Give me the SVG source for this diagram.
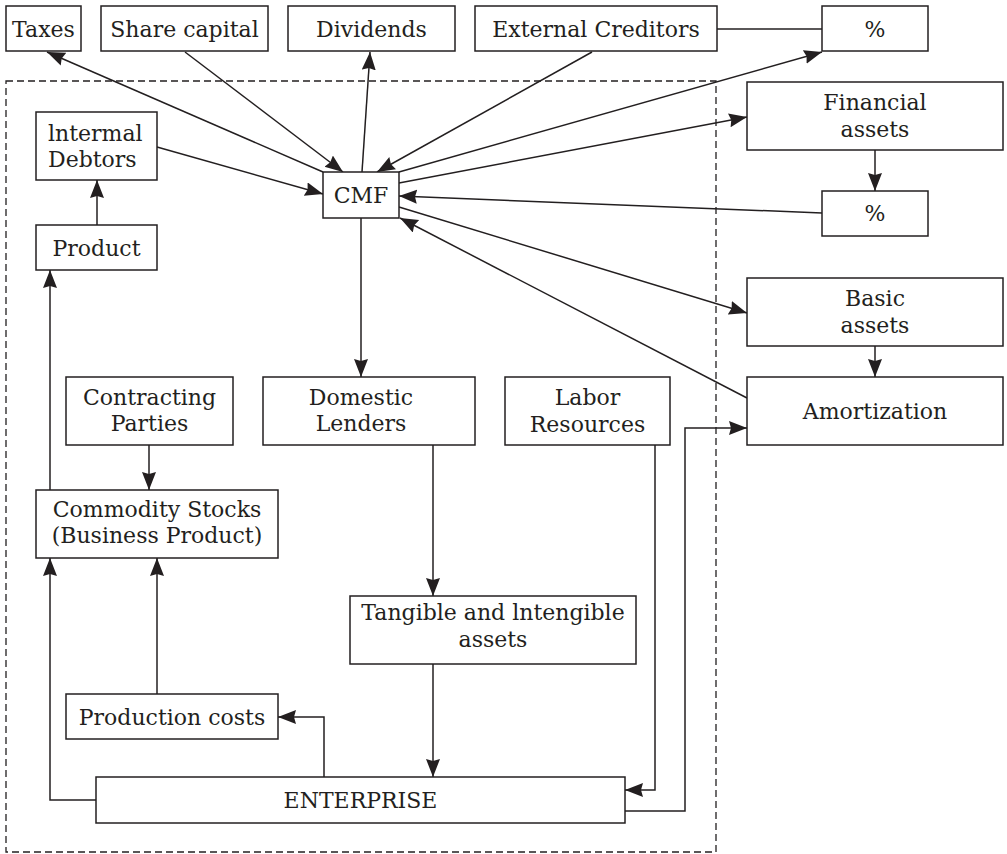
<svg xmlns="http://www.w3.org/2000/svg" width="1007" height="854" viewBox="0 0 1007 854">
<defs>
<marker id="ah" markerUnits="userSpaceOnUse" markerWidth="20" markerHeight="16" refX="18" refY="7" orient="auto">
<path d="M0,0 L18,7 L0,14 L2,7 z" fill="#231f20"/>
</marker>
<style>
.b{fill:#fff;stroke:#231f20;stroke-width:1.5}
.t{font-family:"DejaVu Serif","Liberation Serif",serif;font-size:22px;fill:#231f20;text-anchor:middle}
.c line,.c polyline{stroke:#231f20;stroke-width:1.5;fill:none}
.a{marker-end:url(#ah)}
</style>
</defs>
<rect width="1007" height="854" fill="#fff"/>
<rect id="boundary" x="6" y="81" width="710" height="771" fill="none" stroke="#231f20" stroke-width="1.3" stroke-dasharray="7 4"/>
<g class="c" id="connectors">
<line class="a" x1="323" y1="172" x2="47" y2="52"/>
<line class="a" x1="185" y1="52" x2="343" y2="172"/>
<line class="a" x1="362" y1="172" x2="370" y2="52"/>
<line class="a" x1="592" y1="52" x2="377" y2="172"/>
<line x1="717" y1="29" x2="822" y2="29"/>
<line class="a" x1="399" y1="172" x2="822" y2="52"/>
<line class="a" x1="399" y1="183" x2="747" y2="117"/>
<line class="a" x1="822" y1="213" x2="399" y2="196"/>
<line class="a" x1="399" y1="207" x2="747" y2="313"/>
<line class="a" x1="747" y1="398" x2="400" y2="218"/>
<line class="a" x1="361" y1="218" x2="361" y2="377"/>
<line class="a" x1="875" y1="150" x2="875" y2="191"/>
<line class="a" x1="875" y1="346" x2="875" y2="377"/>
<line class="a" x1="157" y1="147" x2="323" y2="194"/>
<line class="a" x1="97" y1="225" x2="97" y2="180"/>
<line class="a" x1="50" y1="490" x2="50" y2="270"/>
<line class="a" x1="149" y1="445" x2="149" y2="490"/>
<line class="a" x1="433" y1="445" x2="433" y2="596"/>
<line class="a" x1="433" y1="664" x2="433" y2="777"/>
<polyline class="a" points="96,800 50,800 50,558"/>
<line class="a" x1="157" y1="694" x2="157" y2="558"/>
<polyline class="a" points="324,777 324,717 278,717"/>
<polyline class="a" points="655,445 655,790 625,790"/>
<polyline class="a" points="625,811 685,811 685,428 747,428"/>
</g>
<g id="taxes"><rect class="b" x="6" y="6" width="75" height="45"/><text class="t" x="43.5" y="36.5">Taxes</text></g>
<g id="share-capital"><rect class="b" x="101" y="6" width="167" height="45"/><text class="t" x="184.5" y="36.5">Share capital</text></g>
<g id="dividends"><rect class="b" x="288" y="6" width="167" height="45"/><text class="t" x="371.5" y="36.5">Dividends</text></g>
<g id="external-creditors"><rect class="b" x="475" y="6" width="242" height="45"/><text class="t" x="596" y="36.5">External Creditors</text></g>
<g id="pct-top"><rect class="b" x="822" y="6" width="106" height="45"/><text class="t" x="875" y="36.5">%</text></g>
<g id="financial-assets"><rect class="b" x="747" y="82" width="256" height="68"/><text class="t" x="875" y="110">Financial</text><text class="t" x="875" y="137">assets</text></g>
<g id="pct-mid"><rect class="b" x="822" y="191" width="106" height="45"/><text class="t" x="875" y="221">%</text></g>
<g id="basic-assets"><rect class="b" x="747" y="278" width="256" height="68"/><text class="t" x="875" y="306">Basic</text><text class="t" x="875" y="333">assets</text></g>
<g id="amortization"><rect class="b" x="747" y="377" width="256" height="68"/><text class="t" x="875" y="418.5">Amortization</text></g>
<g id="internal-debtors"><rect class="b" x="36" y="112" width="121" height="68"/><text class="t" x="48" y="141" style="text-anchor:start">lntermal</text><text class="t" x="48" y="167" style="text-anchor:start">Debtors</text></g>
<g id="product"><rect class="b" x="36" y="225" width="121" height="45"/><text class="t" x="96.5" y="255.5">Product</text></g>
<g id="cmf"><rect class="b" x="323" y="172" width="76" height="46"/><text class="t" x="361" y="203">CMF</text></g>
<g id="contracting-parties"><rect class="b" x="66" y="377" width="167" height="68"/><text class="t" x="149.5" y="405">Contracting</text><text class="t" x="149.5" y="431">Parties</text></g>
<g id="domestic-lenders"><rect class="b" x="263" y="377" width="212" height="68"/><text class="t" x="361" y="405">Domestic</text><text class="t" x="361" y="431">Lenders</text></g>
<g id="labor-resources"><rect class="b" x="505" y="377" width="165" height="68"/><text class="t" x="587.5" y="405">Labor</text><text class="t" x="587.5" y="432">Resources</text></g>
<g id="commodity-stocks"><rect class="b" x="36" y="490" width="242" height="68"/><text class="t" x="157" y="517">Commodity Stocks</text><text class="t" x="157" y="543">(Business Product)</text></g>
<g id="tangible-assets"><rect class="b" x="350" y="596" width="286" height="68"/><text class="t" x="493" y="620">Tangible and lntengible</text><text class="t" x="493" y="647">assets</text></g>
<g id="production-costs"><rect class="b" x="66" y="694" width="212" height="45"/><text class="t" x="172" y="724.5">Production costs</text></g>
<g id="enterprise"><rect class="b" x="96" y="777" width="529" height="46"/><text class="t" x="360.5" y="807.5">ENTERPRISE</text></g>
</svg>
